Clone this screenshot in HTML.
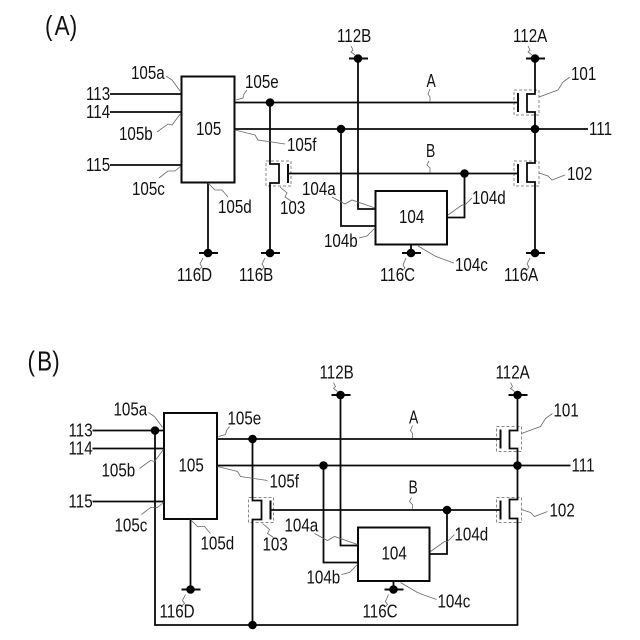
<!DOCTYPE html>
<html><head><meta charset="utf-8"><style>
html,body{margin:0;padding:0;background:#fff}
svg{display:block}
text{font-family:"Liberation Sans",sans-serif;font-size:18.5px;fill:#111}
.w{fill:none;stroke:#0a0a0a;stroke-width:1.8}
.b{fill:none;stroke:#0a0a0a;stroke-width:2}
.d{fill:none;stroke:#888;stroke-width:1;stroke-dasharray:3 2}
.l{fill:none;stroke:#666;stroke-width:.8}
.n{fill:#000}
.big{font-size:28px}
</style></head><body>
<svg width="640" height="640" viewBox="0 0 640 640" xmlns="http://www.w3.org/2000/svg">
<rect width="640" height="640" fill="#fff"/>

<!-- Panel A -->
<g>
<path class="d" d="M514 90H539V115H514ZM514 161H539V186H514ZM266 161H291V186H266Z"/>
<rect class="b" x="181.500" y="76.500" width="53" height="106"/>
<rect class="b" x="375.500" y="191" width="71.500" height="53.500"/>
<path class="w" d="M110 94H181M110 112H181M110 165H181M235 102.500H518M235 129H588"/>
<path class="w" d="M208 183V253M270 102.500V164H279V183H270V253"/>
<path class="w" d="M288 173.500H518M358 58.500V209H375M341 129V226H375"/>
<path class="w" d="M447 217.500H464.500V173.500M411 244.500V253"/>
<path class="w" d="M535 58.500V94H527V112H535V163H527V182H535V253"/>
<path class="b" d="M288 164V183M518 93V112M518 164V183"/>
<path class="b" d="M199 253H218M261 253H280M349 58.500H368M526 58.500H545M402 253H421M526 253H545"/>
<g class="n"><circle cx="270" cy="102.500" r="4.300"/><circle cx="341" cy="129" r="4.300"/><circle cx="535" cy="129" r="4.300"/><circle cx="464.500" cy="173.500" r="4.300"/><circle cx="358" cy="58.500" r="4.300"/><circle cx="535" cy="58.500" r="4.300"/><circle cx="208" cy="253" r="4.300"/><circle cx="270" cy="253" r="4.300"/><circle cx="411" cy="253" r="4.300"/><circle cx="535" cy="253" r="4.300"/></g>
<path class="l" d="M166 76L172 80L175 84L180 91M157 132L168 124L172 125L181 113M159 178L168 171L175 171L181 166M208 183L215 190L222 190L228 197M236 100L243 98L244 94L247 90M235 130L255 135L258 140L285 144M280 187L287 193L285 197L291 201M203 258L200 264L202 267L199 270M265 258L262 264L264 267L262 270M351 46L353 50L351 52L355 55M528 46L530 50L528 52L532 55M430 89L428 94L430 97L430 102M429 161L427 165L430 168L430 173M539 97L558 90L563 82L570 77M539 173L548 176L552 180L565 175M332 197L345 204L352 200L375 208M359 238L367 236L370 233L375 228M418 246L435 256L440 258L454 263M448 215L462 205L465 205L472 198M406 258L403 265L405 268L403 270M530 258L527 264L529 267L527 270"/>
<text class="big" transform="translate(45 35) scale(.8 1)" x="0 12 31">(A)</text>
<text transform="translate(86 100) scale(.82 1)">113</text>
<text transform="translate(86 118) scale(.82 1)">114</text>
<text transform="translate(86 171) scale(.82 1)">115</text>
<text transform="translate(131 79) scale(.82 1)">105a</text>
<text transform="translate(119 140) scale(.82 1)">105b</text>
<text transform="translate(132 195) scale(.82 1)">105c</text>
<text transform="translate(218 213) scale(.82 1)">105d</text>
<text transform="translate(245 88) scale(.82 1)">105e</text>
<text transform="translate(287 151) scale(.82 1)">105f</text>
<text transform="translate(196 135) scale(.82 1)">105</text>
<text transform="translate(280 214) scale(.82 1)">103</text>
<text transform="translate(177 281) scale(.82 1)">116D</text>
<text transform="translate(239 281) scale(.82 1)">116B</text>
<text transform="translate(337 42) scale(.82 1)">112B</text>
<text transform="translate(513 42) scale(.82 1)">112A</text>
<text transform="translate(426.500 87) scale(.75 1)">A</text>
<text transform="translate(426 157) scale(.75 1)">B</text>
<text transform="translate(571 80) scale(.82 1)">101</text>
<text transform="translate(567 180) scale(.82 1)">102</text>
<text transform="translate(589 135) scale(.82 1)">111</text>
<text transform="translate(302 195) scale(.82 1)">104a</text>
<text transform="translate(324 247) scale(.82 1)">104b</text>
<text transform="translate(455 271) scale(.82 1)">104c</text>
<text transform="translate(472 204) scale(.82 1)">104d</text>
<text transform="translate(399 223) scale(.82 1)">104</text>
<text transform="translate(380 281) scale(.82 1)">116C</text>
<text transform="translate(504 281) scale(.82 1)">116A</text>
</g>

<!-- Panel B -->
<g transform="translate(-17.500 336.500)">
<path class="d" d="M514 90H539V115H514ZM514 161H539V186H514ZM266 161H291V186H266Z"/>
<rect class="b" x="181.500" y="76.500" width="53" height="106"/>
<rect class="b" x="375.500" y="191" width="71.500" height="53.500"/>
<path class="w" d="M110 94H181M110 112H181M110 165H181M235 102.500H518M235 129H588"/>
<path class="w" d="M208 183V253M270 102.500V164H279V183H270V288.500"/>
<path class="w" d="M288 173.500H518M358 58.500V209H375M341 129V226H375"/>
<path class="w" d="M447 217.500H464.500V173.500M411 244.500V253"/>
<path class="w" d="M535 58.500V94H527V112H535V163H527V182H535V288.500H172.500V94"/>
<path class="b" d="M288 164V183M518 93V112M518 164V183"/>
<path class="b" d="M199 253H218M349 58.500H368M526 58.500H545M402 253H421"/>
<g class="n"><circle cx="172.500" cy="94" r="4.300"/><circle cx="270" cy="102.500" r="4.300"/><circle cx="341" cy="129" r="4.300"/><circle cx="535" cy="129" r="4.300"/><circle cx="464.500" cy="173.500" r="4.300"/><circle cx="358" cy="58.500" r="4.300"/><circle cx="535" cy="58.500" r="4.300"/><circle cx="208" cy="253" r="4.300"/><circle cx="411" cy="253" r="4.300"/><circle cx="270" cy="288.500" r="4.300"/></g>
<path class="l" d="M166 76L172 80L175 84L180 91M157 132L168 124L172 125L181 113M159 178L168 171L175 171L181 166M208 183L215 190L222 190L228 197M236 100L243 98L244 94L247 90M235 130L255 135L258 140L285 144M280 187L287 193L285 197L291 201M203 258L200 264L202 267L199 270M351 46L353 50L351 52L355 55M528 46L530 50L528 52L532 55M430 89L428 94L430 97L430 102M429 161L427 165L430 168L430 173M539 97L558 90L563 82L570 77M539 173L548 176L552 180L565 175M332 197L345 204L352 200L375 208M359 238L367 236L370 233L375 228M418 246L435 256L440 258L454 263M448 215L462 205L465 205L472 198M406 258L403 265L405 268L403 270"/>
<text class="big" transform="translate(45 34) scale(.8 1)" x="0 12 31">(B)</text>
<text transform="translate(86 100) scale(.82 1)">113</text>
<text transform="translate(86 118) scale(.82 1)">114</text>
<text transform="translate(86 171) scale(.82 1)">115</text>
<text transform="translate(131 79) scale(.82 1)">105a</text>
<text transform="translate(119 140) scale(.82 1)">105b</text>
<text transform="translate(132 195) scale(.82 1)">105c</text>
<text transform="translate(218 213) scale(.82 1)">105d</text>
<text transform="translate(245 88) scale(.82 1)">105e</text>
<text transform="translate(287 151) scale(.82 1)">105f</text>
<text transform="translate(196 135) scale(.82 1)">105</text>
<text transform="translate(280 214) scale(.82 1)">103</text>
<text transform="translate(177 281) scale(.82 1)">116D</text>
<text transform="translate(337 42) scale(.82 1)">112B</text>
<text transform="translate(513 42) scale(.82 1)">112A</text>
<text transform="translate(426.500 87) scale(.75 1)">A</text>
<text transform="translate(426 157) scale(.75 1)">B</text>
<text transform="translate(571 80) scale(.82 1)">101</text>
<text transform="translate(567 180) scale(.82 1)">102</text>
<text transform="translate(589 135) scale(.82 1)">111</text>
<text transform="translate(302 195) scale(.82 1)">104a</text>
<text transform="translate(324 247) scale(.82 1)">104b</text>
<text transform="translate(455 271) scale(.82 1)">104c</text>
<text transform="translate(472 204) scale(.82 1)">104d</text>
<text transform="translate(399 223) scale(.82 1)">104</text>
<text transform="translate(380 281) scale(.82 1)">116C</text>
</g>
</svg>
</body></html>
